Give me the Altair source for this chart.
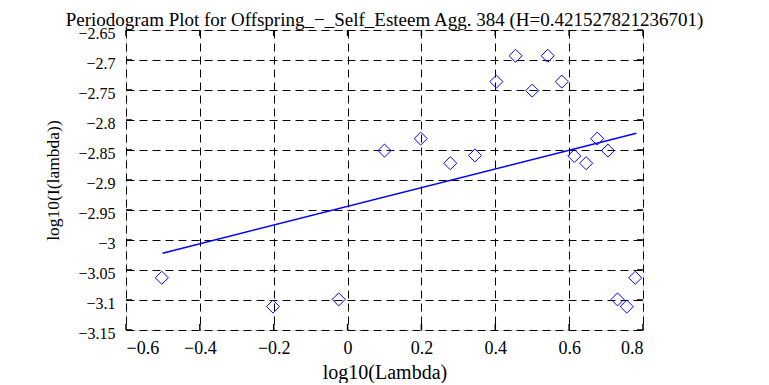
import altair as alt
import pandas as pd

# Periodogram points (log10 Lambda, log10 I(lambda))
log_lambda = [-0.503, -0.202, -0.024, 0.100, 0.198, 0.278, 0.345, 0.403, 0.455, 0.500,
              0.542, 0.580, 0.614, 0.646, 0.676, 0.705, 0.731, 0.756, 0.779]
log_i = [-3.063, -3.111, -3.099, -2.851, -2.831, -2.872, -2.859, -2.736, -2.693, -2.751,
         -2.693, -2.736, -2.860, -2.872, -2.831, -2.851, -3.099, -3.111, -3.063]

# Fitted line end points
fit_x = [-0.501, 0.782]
fit_y = [-3.022, -2.822]

x_ticks = [-0.6, -0.4, -0.2, 0, 0.2, 0.4, 0.6, 0.8]
y_ticks = [-2.65, -2.7, -2.75, -2.8, -2.85, -2.9, -2.95, -3, -3.05, -3.1, -3.15]

title = "Periodogram Plot for Offspring_\u2212_Self_Esteem Agg. 384 (H=0.421527821236701)"

pts = pd.DataFrame({"x": log_lambda, "y": log_i})
fit = pd.DataFrame({"x": fit_x, "y": fit_y})
xt = pd.DataFrame({"v": x_ticks})
yt = pd.DataFrame({"v": y_ticks})

FONT = "Liberation Serif"
W, H = 517, 300

xs = alt.Scale(domain=[-0.6, 0.8], nice=False, zero=False)
ys = alt.Scale(domain=[-3.15, -2.65], nice=False, zero=False)

xaxis = alt.Axis(values=x_ticks, format="~g", title="log10(Lambda)", grid=True,
                 gridColor="black", gridDash=[8, 5], gridWidth=1, gridOpacity=1,
                 domain=False, ticks=False, labelPadding=9, labelOverlap=False,
                 labelFont=FONT, labelFontSize=18, labelColor="black",
                 titleFont=FONT, titleFontSize=20, titleFontWeight="normal",
                 titleColor="black", titleBaseline="alphabetic", titleY=48)
yaxis = alt.Axis(values=y_ticks, format="~g", title="log10(I(lambda))", grid=True,
                 gridColor="black", gridDash=[8, 5], gridWidth=1, gridOpacity=1,
                 domain=False, ticks=False, labelPadding=11, labelOverlap=False,
                 labelOffset=3,
                 labelFont=FONT, labelFontSize=16, labelColor="black",
                 titleFont=FONT, titleFontSize=17.5, titleFontWeight="normal",
                 titleColor="black", titlePadding=15)

points = alt.Chart(pts).mark_point(shape="diamond", filled=False, color="#0000ff",
                                   size=170, strokeWidth=1, opacity=1).encode(
    x=alt.X("x:Q", scale=xs, axis=xaxis),
    y=alt.Y("y:Q", scale=ys, axis=yaxis),
)

line = alt.Chart(fit).mark_line(color="#0000ff", strokeWidth=1.5).encode(
    x=alt.X("x:Q", scale=xs, axis=xaxis),
    y=alt.Y("y:Q", scale=ys, axis=yaxis),
)

# inward tick marks on all four sides
tb = alt.Chart(xt).mark_rule(color="black", strokeWidth=1.5).encode(
    x=alt.X("v:Q", scale=xs, axis=xaxis), y=alt.value(H), y2=alt.value(H - 6))
tt = alt.Chart(xt).mark_rule(color="black", strokeWidth=1.5).encode(
    x=alt.X("v:Q", scale=xs, axis=xaxis), y=alt.value(0), y2=alt.value(6))
tl = alt.Chart(yt).mark_rule(color="black", strokeWidth=1.5).encode(
    y=alt.Y("v:Q", scale=ys, axis=yaxis), x=alt.value(0), x2=alt.value(6))
tr = alt.Chart(yt).mark_rule(color="black", strokeWidth=1.5).encode(
    y=alt.Y("v:Q", scale=ys, axis=yaxis), x=alt.value(W), x2=alt.value(W - 6))

chart = alt.layer(points, line, tb, tt, tl, tr).properties(
    width=W, height=H,
    title=alt.TitleParams(title, font=FONT, fontSize=19, fontWeight="normal",
                          color="black", anchor="middle", offset=0, dy=5,
                          frame="group"),
    autosize=alt.AutoSizeParams(type="none"),
    padding={"left": 118, "top": 22, "right": 110, "bottom": 53},
).configure_view(stroke="black", strokeWidth=2).configure(background="white")

chart.save("out.html", embed_options={"renderer": "svg", "actions": False})
